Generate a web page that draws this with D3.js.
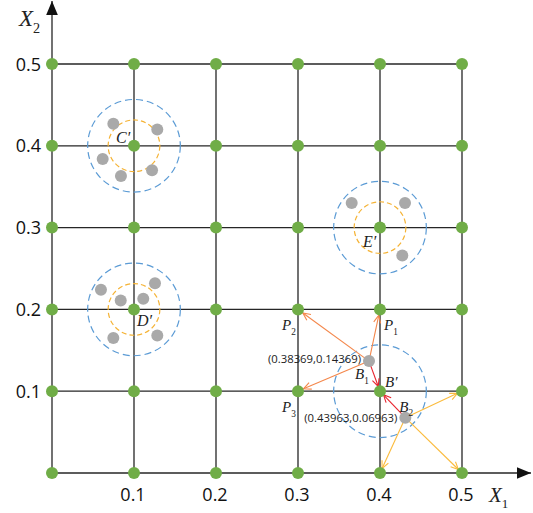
<!DOCTYPE html>
<html>
<head>
<meta charset="utf-8">
<script src="https://cdn.jsdelivr.net/npm/d3@7"></script>
<style>
  body { margin: 0; background: white; }
</style>
</head>
<body>
<div id="chart"></div>
<script>
// grid values and tick labels
const gridValues = [0, 0.1, 0.2, 0.3, 0.4, 0.5];
const tickLabels = ["0.1", "0.2", "0.3", "0.4", "0.5"];

// cluster centres (grid nodes) and their sample points
const clusterNames = ["C\u2032", "D\u2032", "E\u2032"];
const clusterCenters = [[0.1, 0.4], [0.1, 0.2], [0.4, 0.3]];
const clusterPoints = [
  [[0.0748, 0.427], [0.1284, 0.420], [0.0618, 0.384], [0.0841, 0.363], [0.122, 0.370]],
  [[0.0597, 0.224], [0.0838, 0.211], [0.1113, 0.213], [0.1256, 0.232], [0.0748, 0.165], [0.1284, 0.168]],
  [[0.3655, 0.330], [0.4305, 0.330], [0.4272, 0.266]]
];

// moving points B1, B2 and target B'
const bPoints = [[0.3866, 0.1368], [0.4309, 0.0676]];
const bCoordLabels = ["(0.38369,0.14369)", "(0.43963,0.06963)"];
const bTarget = [0.4, 0.1];
const b1Targets = [[0.4, 0.2], [0.3, 0.2], [0.3, 0.1]];
const b2Targets = [[0.5, 0.1], [0.4, 0.0], [0.5, 0.0]];

const width = 533, height = 513;
const x = d3.scaleLinear().domain([0, 0.5]).range([52, 462]);
const y = d3.scaleLinear().domain([0, 0.5]).range([473, 64]);

const svg = d3.select("#chart").append("svg")
    .attr("width", width)
    .attr("height", height);

const defs = svg.append("defs");
function addMarker(id, color) {
  defs.append("marker")
      .attr("id", id)
      .attr("viewBox", "-1 -5 10 10")
      .attr("refX", 7.5)
      .attr("refY", 0)
      .attr("markerWidth", 10)
      .attr("markerHeight", 10)
      .attr("markerUnits", "userSpaceOnUse")
      .attr("orient", "auto")
    .append("path")
      .attr("d", "M0,-3.5L7.5,0L0,3.5")
      .attr("fill", "none")
      .attr("stroke", color)
      .attr("stroke-width", 1.1);
}
addMarker("arrOrange", "#f4874b");
addMarker("arrGold", "#fbbb3c");
addMarker("arrRed", "#e8232e");
defs.append("marker")
    .attr("id", "axisHead")
    .attr("viewBox", "0 -5 12 10")
    .attr("refX", 12)
    .attr("refY", 0)
    .attr("markerWidth", 14)
    .attr("markerHeight", 12)
    .attr("markerUnits", "userSpaceOnUse")
    .attr("orient", "auto")
  .append("path")
    .attr("d", "M0,-5L12,0L0,5Z")
    .attr("fill", "#111");

// grid
const grid = svg.append("g").attr("stroke", "#262626").attr("stroke-width", 1.3);
gridValues.slice(1).forEach(v => {
  grid.append("line").attr("x1", x(0)).attr("x2", x(0.5)).attr("y1", y(v)).attr("y2", y(v));
  grid.append("line").attr("x1", x(v)).attr("x2", x(v)).attr("y1", y(0)).attr("y2", y(0.5));
});
// axes with arrow heads
svg.append("line")
    .attr("x1", x(0)).attr("y1", y(0)).attr("x2", 531).attr("y2", y(0))
    .attr("stroke", "#262626").attr("stroke-width", 1.3)
    .attr("marker-end", "url(#axisHead)");
svg.append("line")
    .attr("x1", x(0)).attr("y1", y(0)).attr("x2", x(0)).attr("y2", 1)
    .attr("stroke", "#262626").attr("stroke-width", 1.3)
    .attr("marker-end", "url(#axisHead)");

// tick labels
const tickFont = "'Open Sans', 'Noto Sans', sans-serif";
svg.append("g").selectAll("text")
    .data(tickLabels)
    .join("text")
    .attr("x", 41)
    .attr("y", d => y(+d) + 6.5)
    .attr("text-anchor", "end")
    .attr("font-family", tickFont)
    .attr("font-size", 18)
    .attr("fill", "#111")
    .text(d => d);
svg.append("g").selectAll("text")
    .data(tickLabels)
    .join("text")
    .attr("x", d => x(+d) - 1)
    .attr("y", 501)
    .attr("text-anchor", "middle")
    .attr("font-family", tickFont)
    .attr("font-size", 18)
    .attr("fill", "#111")
    .text(d => d);

// italic serif label with subscript
function varLabel(px, py, main, sub, size) {
  const t = svg.append("text")
      .attr("x", px).attr("y", py)
      .attr("font-family", "'Liberation Serif', 'DejaVu Serif', serif")
      .attr("font-style", "italic")
      .attr("font-size", size)
      .attr("fill", "#222");
  t.append("tspan").text(main);
  if (sub) {
    t.append("tspan")
        .attr("dy", size * 0.3)
        .attr("font-size", size * 0.62)
        .attr("font-style", "normal")
        .text(sub);
  }
  return t;
}
varLabel(19, 26, "X", "2", 23);
varLabel(489, 502, "X", "1", 21);

// dashed circles
clusterCenters.forEach(c => {
  svg.append("circle")
      .attr("cx", x(c[0])).attr("cy", y(c[1]))
      .attr("r", x(0.0565) - x(0))
      .attr("fill", "none").attr("stroke", "#5b9bd5")
      .attr("stroke-width", 1.2).attr("stroke-dasharray", "7,4");
  svg.append("circle")
      .attr("cx", x(c[0])).attr("cy", y(c[1]))
      .attr("r", x(0.0315) - x(0))
      .attr("fill", "none").attr("stroke", "#f5b335")
      .attr("stroke-width", 1.2).attr("stroke-dasharray", "5,3");
});
svg.append("circle")
    .attr("cx", x(bTarget[0])).attr("cy", y(bTarget[1]))
    .attr("r", x(0.0565) - x(0))
    .attr("fill", "none").attr("stroke", "#5b9bd5")
    .attr("stroke-width", 1.2).attr("stroke-dasharray", "7,4");

// arrows
function arrow(from, to, color, marker, shorten) {
  const x1 = x(from[0]), y1 = y(from[1]), x2 = x(to[0]), y2 = y(to[1]);
  const len = Math.hypot(x2 - x1, y2 - y1);
  const k = (len - shorten) / len;
  svg.append("line")
      .attr("x1", x1).attr("y1", y1)
      .attr("x2", x1 + (x2 - x1) * k).attr("y2", y1 + (y2 - y1) * k)
      .attr("stroke", color).attr("stroke-width", 1.1)
      .attr("marker-end", `url(#${marker})`);
}
b1Targets.forEach(t => arrow(bPoints[0], t, "#f4874b", "arrOrange", 6));
b2Targets.forEach(t => arrow(bPoints[1], t, "#fbbb3c", "arrGold", 5));
bPoints.forEach(b => arrow(b, bTarget, "#e8232e", "arrRed", 5));

// green grid nodes
const nodes = [];
gridValues.forEach(a => gridValues.forEach(b => nodes.push([a, b])));
svg.append("g").selectAll("circle")
    .data(nodes)
    .join("circle")
    .attr("cx", d => x(d[0]))
    .attr("cy", d => y(d[1]))
    .attr("r", 6)
    .attr("fill", "#70ad47");

// gray sample points
svg.append("g").selectAll("circle")
    .data(clusterPoints.flat().concat(bPoints))
    .join("circle")
    .attr("cx", d => x(d[0]))
    .attr("cy", d => y(d[1]))
    .attr("r", 6)
    .attr("fill", "#a9a9a9");

// cluster labels
varLabel(x(0.1) - 18, y(0.4) - 3, clusterNames[0], null, 16);
varLabel(x(0.1) + 3, y(0.2) + 17, clusterNames[1], null, 16);
varLabel(x(0.4) - 17, y(0.3) + 19, clusterNames[2], null, 16);

// point labels
varLabel(x(0.3) - 16, y(0.2) + 21, "P", "2", 15);
varLabel(x(0.4) + 4, y(0.2) + 21, "P", "1", 15);
varLabel(x(0.3) - 16, y(0.1) + 21, "P", "3", 15);
varLabel(x(bPoints[0][0]) - 14, y(bPoints[0][1]) + 18, "B", "1", 15);
varLabel(x(bPoints[1][0]) - 6, y(bPoints[1][1]) - 6, "B", "2", 15);
varLabel(x(0.4) + 5, y(0.1) - 4, "B\u2032", null, 15);

// coordinate labels
svg.append("g").selectAll("text")
    .data(bCoordLabels)
    .join("text")
    .attr("x", (d, i) => x(bPoints[i][0]) - 8)
    .attr("y", (d, i) => y(bPoints[i][1]) + 2 + i * 2)
    .attr("text-anchor", "end")
    .attr("font-family", tickFont)
    .attr("font-size", 11.3)
    .attr("fill", "#222")
    .text(d => d);
</script>
</body>
</html>
